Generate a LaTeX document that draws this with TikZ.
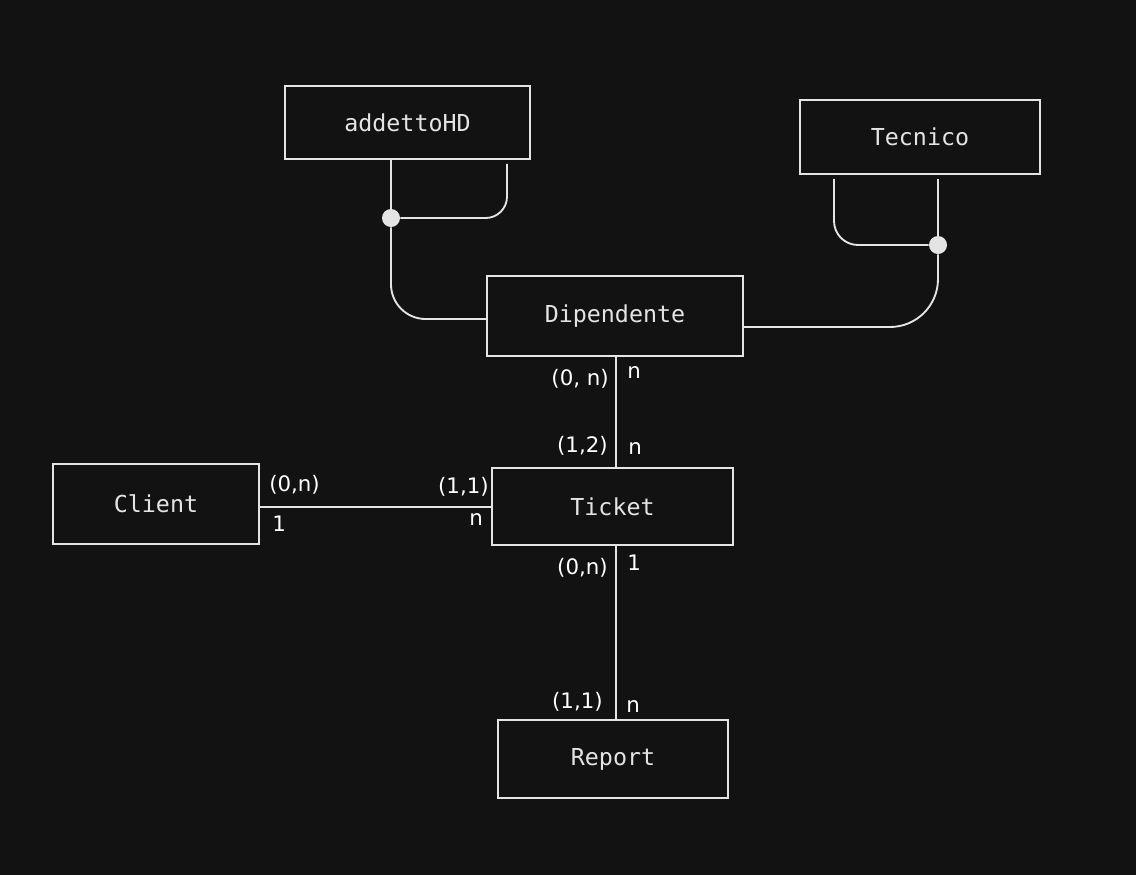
\documentclass[tikz,border=0pt]{standalone}
\usepackage{fontspec}
\usetikzlibrary{calc}
\newfontfamily\boxfont{DejaVu Sans Mono}
\newfontfamily\cardfont{DejaVu Sans}
\definecolor{bgdark}{HTML}{121212}
\definecolor{inkwhite}{HTML}{E4E4E4}
\tikzset{
  entity/.style={draw=inkwhite, line width=1.2pt, text=inkwhite, inner sep=0pt,
    font=\boxfont\fontsize{17.5}{20}\selectfont},
  link/.style={draw=inkwhite, line width=1.4pt},
  joint/.style={circle, fill=inkwhite, inner sep=0pt, minimum size=13.5pt},
  card/.style={text=white, inner sep=0.75pt, font=\cardfont\fontsize{16}{18}\selectfont},
}

\begin{document}
\begin{tikzpicture}[x=0.75pt,y=0.75pt,yscale=-1,xscale=1]
    % canvas
    \fill[bgdark] (0,0) rectangle (1136,875);
    \useasboundingbox (0,0) rectangle (1136,875);

    % Entity: addettoHD
    \node [entity, minimum width=183.75pt, minimum height=54.75pt] (addetto) at (407.5,122.5) {addettoHD};
    % Entity: Tecnico
    \node [entity, minimum width=180pt, minimum height=55.5pt] (tec) at (920,137) {Tecnico};
    % Entity: Dipendente
    \node [entity, minimum width=192pt, minimum height=60pt] (dip) at (615,316) {Dipendente};
    % Entity: Client
    \node [entity, minimum width=154.5pt, minimum height=60pt] (client) at (156,504) {Client};
    % Entity: Ticket
    \node [entity, minimum width=180.75pt, minimum height=57.75pt] (ticket) at (612.5,506.5) {Ticket};
    % Entity: Report
    \node [entity, minimum width=172.5pt, minimum height=58.5pt] (report) at (613,759) {Report};

    % Joints
    \node [joint] (dA) at (391,218) {};
    \node [joint] (dT) at (938,245) {};

    % addettoHD -- Dipendente
    \draw [link] (addetto.south -| dA) -- (dA);
    \draw [link, rounded corners=26pt] (dA) |- ($(dip.west)+(0,3)$);
    \draw [link, rounded corners=16pt] ($(addetto.south)+(99.5,4)$) |- (dA);

    % Tecnico -- Dipendente
    \draw [link] ($(tec.south -| dT)+(0,4)$) -- (dT);
    \draw [link, rounded corners=36pt] (dT) |- ($(dip.east)+(0,11)$);
    \draw [link, rounded corners=18pt] ($(tec.south)+(-86,4)$) |- (dT);

    % Dipendente -- Ticket
    \draw [link] ($(dip.south)+(1,0)$) coordinate (ds) -- (ds |- ticket.north);
    % Client -- Ticket
    \draw [link] ($(client.east)+(0,3)$) coordinate (ce) -- (ce -| ticket.west);
    % Ticket -- Report
    \draw [link] ($(ticket.south)+(3.5,0)$) coordinate (ts) -- (ts |- report.north);

    % Cardinalities
    \node [card, anchor=east] (c1) at (610,379) {(0, n)};
    \node [card, anchor=west] (c2) at (626,373) {n};
    \node [card, anchor=east] (c3) at (609,446) {(1,2)};
    \node [card, anchor=west] (c4) at (627,449) {n};
    \node [card, anchor=west] (c5) at (268,485) {(0,n)};
    \node [card, anchor=west] (c6) at (271,524) {1};
    \node [card, anchor=east] (c7) at (490,487) {(1,1)};
    \node [card, anchor=west] (c8) at (468,520) {n};
    \node [card, anchor=east] (c9) at (609,568) {(0,n)};
    \node [card, anchor=west] (c10) at (626,563) {1};
    \node [card, anchor=east] (c11) at (604,702) {(1,1)};
    \node [card, anchor=west] (c12) at (625,707) {n};

\end{tikzpicture}
\end{document}
